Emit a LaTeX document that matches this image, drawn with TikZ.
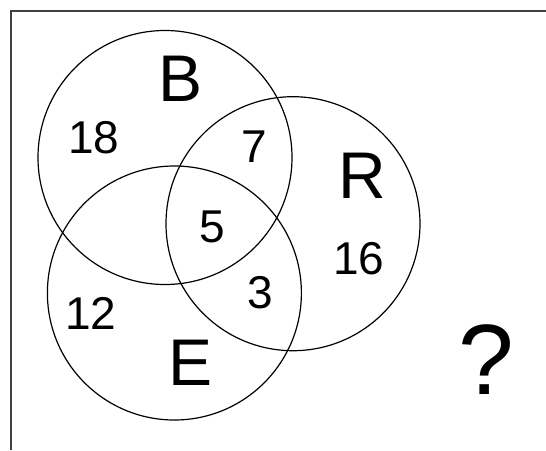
\documentclass[tikz,border=0pt]{standalone}
\usepackage{fontspec}
\setmainfont{Liberation Sans}
\usepackage{tikz}

\begin{document}
\begin{tikzpicture}[x=1pt, y=-1pt,
    setcirc/.style={circle, draw=black, line width=1.2pt, minimum size=254pt, inner sep=0pt},
    setname/.style={inner sep=0pt, font=\fontsize{66}{70}\selectfont},
    count/.style={inner sep=0pt, font=\fontsize{46}{50}\selectfont},
    frame/.style={draw=black!75, line width=2pt}]
  \useasboundingbox (0,0) rectangle (546,450);
  \draw[frame] (11,450) -- (11,11) -- (546,11);
  % the three sets
  \node[setcirc] (setB) at (165,157.5) {};
  \node[setcirc] (setR) at (293,223.7) {};
  \node[setcirc] (setE) at (174.4,293) {};
  \node[setname] (nB) at (181,79) {B};
  \node[setname] (nR) at (362,176) {R};
  \node[setname] (nE) at (191,363) {E};
  % counts in the regions
  \node[count] (onlyB) at (94,138) {18};
  \node[count] (BR) at (254,147) {7};
  \node[count] (BRE) at (212,227) {5};
  \node[count] (onlyR) at (359,259) {16};
  \node[count] (RE) at (260,293) {3};
  \node[count] (onlyE) at (91,313) {12};
  \node[inner sep=0pt, font=\fontsize{100}{104}\selectfont] (unknown) at (486,360) {?};
\end{tikzpicture}
\end{document}
